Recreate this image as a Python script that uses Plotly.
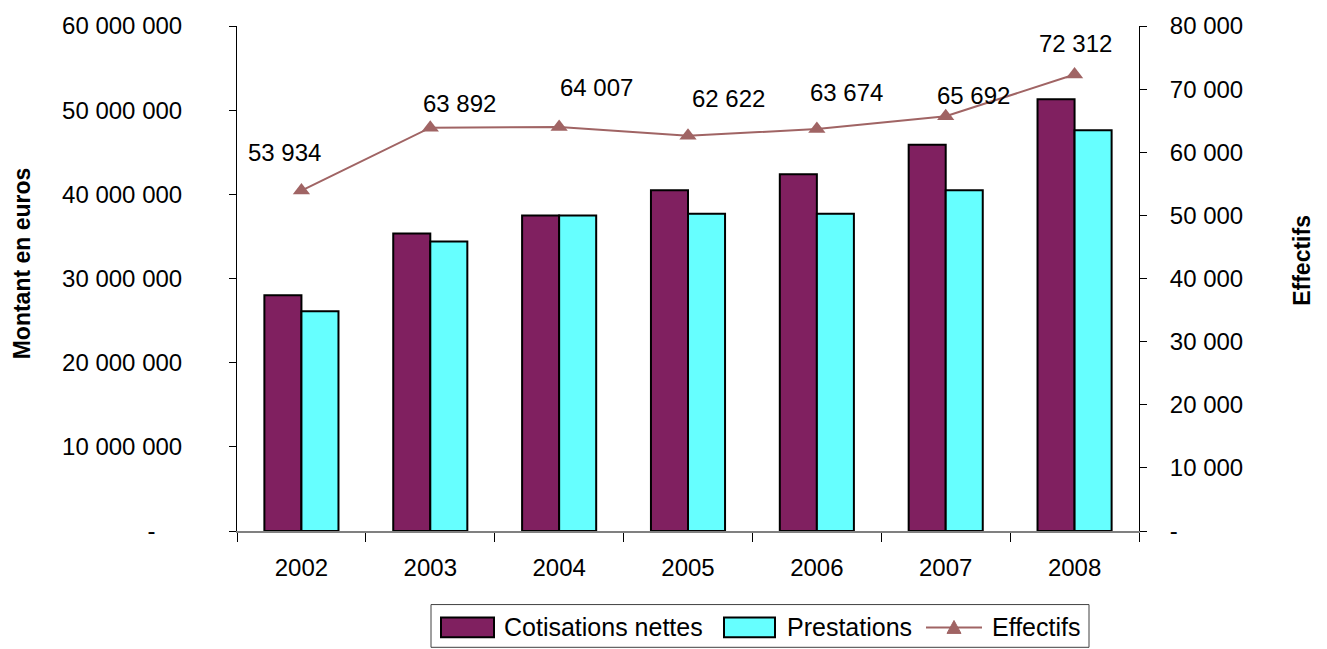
import plotly.graph_objects as go

# Data
years = ["2002", "2003", "2004", "2005", "2006", "2007", "2008"]
cotisations = [28.0e6, 35.35e6, 37.5e6, 40.5e6, 42.4e6, 45.9e6, 51.3e6]
prestations = [26.1e6, 34.4e6, 37.5e6, 37.7e6, 37.7e6, 40.5e6, 47.6e6]
effectifs = [53934, 63892, 64007, 62622, 63674, 65692, 72312]

left_ticks = [0, 10e6, 20e6, 30e6, 40e6, 50e6, 60e6]
left_labels = ["-\u00a0\u00a0\u00a0\u00a0", "10 000 000", "20 000 000", "30 000 000",
               "40 000 000", "50 000 000", "60 000 000"]
right_ticks = [0, 10000, 20000, 30000, 40000, 50000, 60000, 70000, 80000]
right_labels = ["-", "10 000", "20 000", "30 000", "40 000", "50 000",
                "60 000", "70 000", "80 000"]

# label offsets (pixels) for the effectifs values
label_shift = [(-17, 38), (29, 24), (37, 39), (40, 37), (30, 37), (28, 21), (1, 31)]

PURPLE = "#802060"
CYAN = "#66FFFF"
LINE = "#A06464"
FONT = "Liberation Sans, Arial, sans-serif"
FS = 24

def fmt(v):
    return f"{v:,}".replace(",", " ")

fig = go.Figure()
fig.add_trace(go.Bar(x=years, y=cotisations, name="Cotisations nettes",
                     marker=dict(color=PURPLE, line=dict(color="black", width=2)),
                     showlegend=False))
fig.add_trace(go.Bar(x=years, y=prestations, name="Prestations",
                     marker=dict(color=CYAN, line=dict(color="black", width=2)),
                     showlegend=False))
fig.add_trace(go.Scatter(x=years, y=effectifs, name="Effectifs", yaxis="y2",
                         mode="lines+markers",
                         line=dict(color=LINE, width=2),
                         marker=dict(symbol="triangle-up", size=15, color=LINE),
                         showlegend=False))

annotations = []
for i, (v, (dx, dy)) in enumerate(zip(effectifs, label_shift)):
    annotations.append(dict(x=i, y=v, xref="x", yref="y2", text=fmt(v),
                            showarrow=False, xshift=dx, yshift=dy,
                            font=dict(family=FONT, size=FS, color="black")))

# axis titles
annotations.append(dict(x=-0.2384, y=0.53, xref="paper", yref="paper",
                        xanchor="center", yanchor="middle",
                        text="<b>Montant en euros</b>", textangle=-90, showarrow=False,
                        font=dict(family=FONT, size=FS - 1, color="black")))
annotations.append(dict(x=1.1807, y=0.537, xref="paper", yref="paper",
                        xanchor="center", yanchor="middle",
                        text="<b>Effectifs</b>", textangle=-90, showarrow=False,
                        font=dict(family=FONT, size=FS - 1, color="black")))

# legend box
W, H = 902.0, 508.0
def px(x):
    return (x - 237) / W
def py(y):
    return (531 - y) / H

shapes = [
    dict(type="rect", xref="paper", yref="paper", x0=px(431), x1=px(1089),
         y0=py(648), y1=py(605), line=dict(color="#404040", width=1), fillcolor="white"),
    dict(type="rect", xref="paper", yref="paper", x0=px(441), x1=px(494),
         y0=py(638), y1=py(618), line=dict(color="black", width=2), fillcolor=PURPLE),
    dict(type="rect", xref="paper", yref="paper", x0=px(724), x1=px(775),
         y0=py(638), y1=py(618), line=dict(color="black", width=2), fillcolor=CYAN),
    dict(type="line", xref="paper", yref="paper", x0=px(926), x1=px(982),
         y0=py(628), y1=py(628), line=dict(color=LINE, width=2)),
    dict(type="path", xref="paper", yref="paper",
         path=f"M {px(947)},{py(634)} L {px(961)},{py(634)} L {px(954)},{py(621)} Z",
         line=dict(color=LINE, width=1), fillcolor=LINE),
]
for txt, x0 in [("Cotisations nettes", 502), ("Prestations", 785), ("Effectifs", 990)]:
    annotations.append(dict(x=px(x0), y=py(628), xref="paper", yref="paper",
                            text=txt, showarrow=False, xanchor="left", yanchor="middle",
                            font=dict(family=FONT, size=FS + 1, color="black")))

fig.update_layout(
    width=1327, height=649,
    margin=dict(l=237, r=188, t=23, b=118),
    paper_bgcolor="white", plot_bgcolor="white",
    barmode="group", bargap=0.425, bargroupgap=0,
    font=dict(family=FONT, size=FS, color="black"),
    showlegend=False,
    xaxis=dict(type="category", range=[-0.5, len(years) - 0.5],
               showline=True, linecolor="#808080", linewidth=2,
               ticks="outside", tickson="boundaries", ticklen=9, tickcolor="black",
               tickangle=0, tickfont=dict(size=FS), ticklabelstandoff=14,
               showgrid=False, zeroline=False),
    yaxis=dict(range=[0, 60e6], tickvals=left_ticks, ticktext=left_labels,
               showline=True, linecolor="black", linewidth=1, ticks="outside",
               ticklen=7, tickcolor="black", showgrid=False, zeroline=False,
               ticklabelstandoff=42, tickfont=dict(size=FS)),
    yaxis2=dict(range=[0, 80000], tickvals=right_ticks, ticktext=right_labels,
                overlaying="y", side="right", showline=True, linecolor="black",
                linewidth=1, ticks="outside", ticklen=7, tickcolor="black",
                showgrid=False, zeroline=False, ticklabelstandoff=18,
                tickfont=dict(size=FS)),
    annotations=annotations,
    shapes=shapes,
)

fig.write_html("out.html")
